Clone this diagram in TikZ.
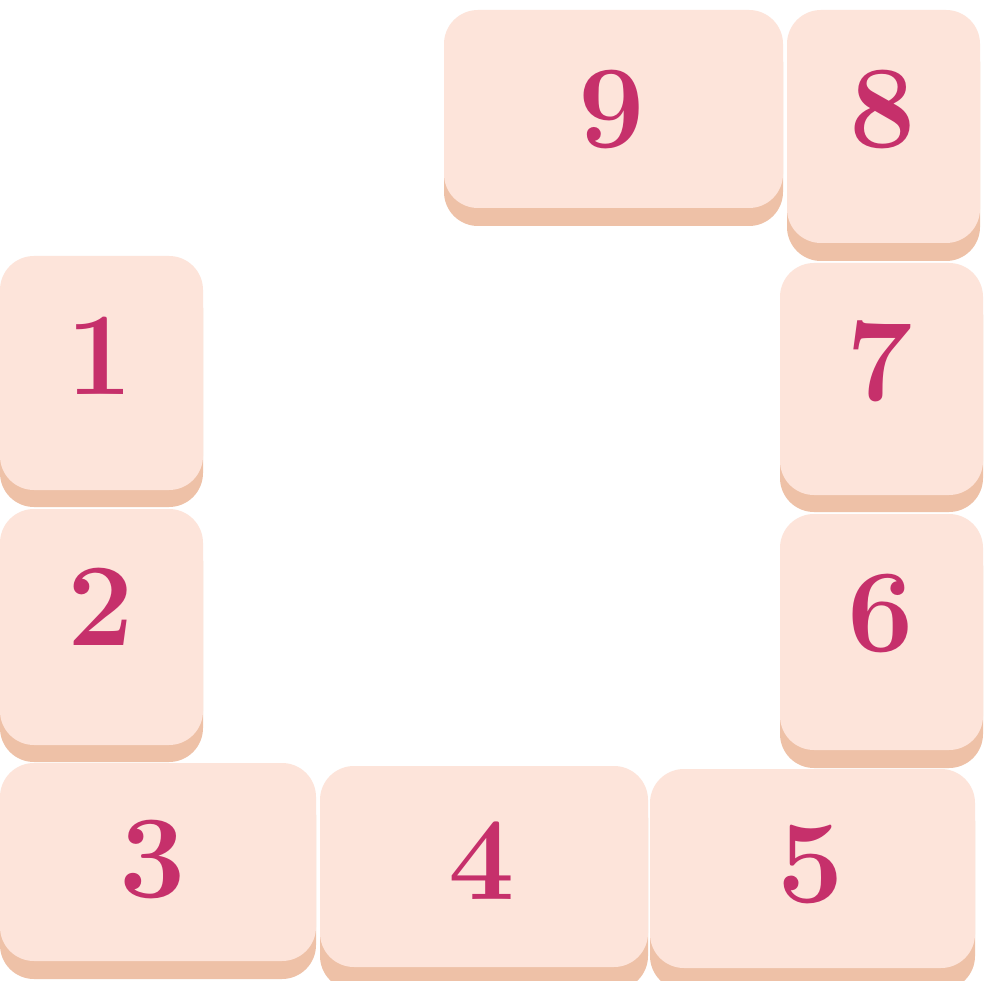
\documentclass[tikz,border=0pt]{standalone}
\usepackage{fontspec}
\definecolor{face}{HTML}{FDE4DA}
\definecolor{shade}{HTML}{EEC1A7}
\definecolor{digit}{HTML}{C6306B}
\tikzset{
  tileface/.style={fill=face, rounded corners=34pt},
  tileshade/.style={fill=shade, rounded corners=34pt},
  num/.style={text=digit, inner sep=0pt, font=\fontsize{118}{118}\selectfont\bfseries}
}
\newcommand{\mytile}[9]{%
  % #1 name, #2 x1, #3 y1, #4 x2, #5 face bottom, #6 shade bottom, #7 digit, #8 cx, #9 cy
  \fill[tileshade] (#2,#3+18) rectangle (#4,#6);
  \fill[tileface] (#2,#3) rectangle (#4,#5);
  \node[num] (#1) at (#8,#9) {#7};
}
\begin{document}
\begin{tikzpicture}[x=1pt,y=-1pt]
\useasboundingbox (0,0) rectangle (993,981);
\fill[white] (0,0) rectangle (993,981);
\mytile{t9}{444}{10}{783}{208}{226}{9}{612}{110}
\mytile{t8}{787}{10}{980}{243}{261}{8}{883}{110}
\mytile{t1}{0}{256}{203}{490}{507}{1}{100}{356}
\mytile{t2}{0}{509}{203}{745}{762}{2}{101}{607}
\mytile{t7}{780}{263}{983}{495}{512}{7}{880}{361}
\mytile{t6}{780}{514}{983}{750}{768}{6}{881}{614}
\mytile{t3}{0}{763}{316}{961}{979}{3}{153}{859}
\mytile{t4}{320}{766}{648}{967}{990}{4}{482}{861}
\mytile{t5}{650}{769}{975}{968}{990}{5}{811}{864}
\end{tikzpicture}
\end{document}
